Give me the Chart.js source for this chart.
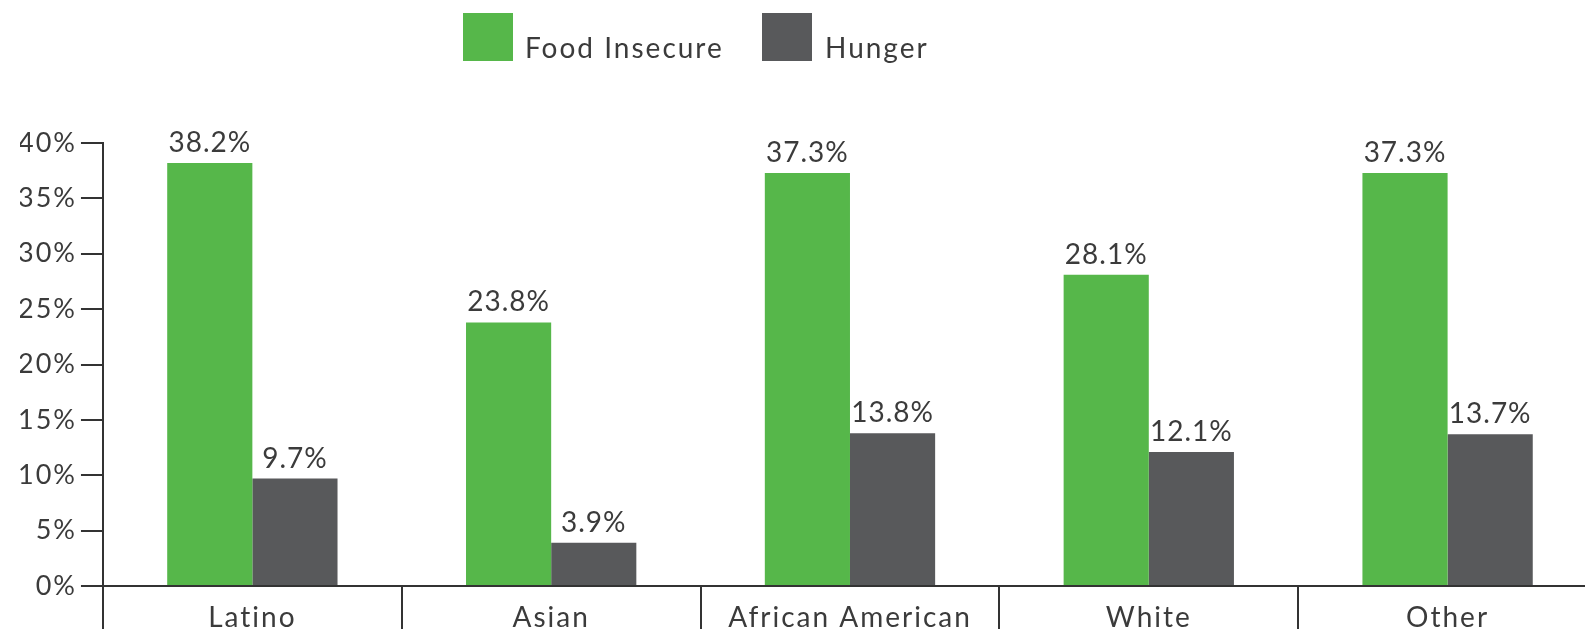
<!DOCTYPE html>
<html>
<head>
<meta charset="utf-8">
<script src="https://cdn.jsdelivr.net/npm/chart.js@4"></script>
<style>
  html, body { margin:0; padding:0; background:#fff; overflow:hidden; width:1585px; height:629px; }
  #wrap { position:absolute; left:0; top:0; width:1600px; height:640px; }
  .lg-box { position:absolute; width:50px; height:48px; top:13px; }
  .lg-txt { position:absolute; top:33px; font-family:Lato, sans-serif; font-size:28px; line-height:28px; letter-spacing:2px; color:#3b3b3b; white-space:nowrap; }
</style>
</head>
<body>
<div id="wrap"><canvas id="chart" width="1600" height="640"></canvas></div>
<div class="lg-box" style="left:463px;background:#56b74a"></div>
<div class="lg-txt" style="left:525px">Food Insecure</div>
<div class="lg-box" style="left:762px;background:#58595b"></div>
<div class="lg-txt" style="left:825px">Hunger</div>
<script>
// values
const categories = ['Latino', 'Asian', 'African American', 'White', 'Other'];
const foodInsecure = [38.2, 23.8, 37.3, 28.1, 37.3];
const hunger = [9.7, 3.9, 13.8, 12.1, 13.7];
const yTicks = [0, 5, 10, 15, 20, 25, 30, 35, 40];

const GREEN = '#56b74a', GRAY = '#58595b', INK = '#3b3b3b', AXIS = '#333';
const FONT = {family:'Lato, sans-serif', size:28};

// the original typeface is wider than Lato, so space the letters a bit
const wideText = {
  id:'wideText',
  beforeDraw(chart){ chart.ctx.letterSpacing = '2px'; }
};

// value labels above each bar
const barLabels = {
  id:'barLabels',
  afterDatasetsDraw(chart){
    const ctx = chart.ctx;
    ctx.save();
    ctx.font = '28px Lato, sans-serif';
    ctx.letterSpacing = '1px';
    ctx.fillStyle = INK;
    ctx.textAlign = 'center';
    ctx.textBaseline = 'alphabetic';
    chart.data.datasets.forEach((ds, i) => {
      chart.getDatasetMeta(i).data.forEach((bar, j) => {
        ctx.fillText(ds.data[j].toFixed(1) + '%', bar.x, bar.y - 11);
      });
    });
    ctx.restore();
  }
};

new Chart(document.getElementById('chart'), {
  type:'bar',
  data:{
    labels:categories,
    datasets:[
      {label:'Food Insecure', data:foodInsecure, backgroundColor:GREEN, borderWidth:0},
      {label:'Hunger', data:hunger, backgroundColor:GRAY, borderWidth:0}
    ]
  },
  options:{
    responsive:false,
    animation:false,
    layout:{padding:{top:143, left:20, right:3, bottom:0}},
    plugins:{legend:{display:false}, tooltip:{enabled:false}},
    datasets:{bar:{barPercentage:1, categoryPercentage:0.57}},
    scales:{
      x:{
        afterFit(scale){ scale.height = 54; },
        grid:{offset:true, drawOnChartArea:false, tickLength:45, color:AXIS, lineWidth:2},
        border:{color:AXIS, width:2},
        ticks:{color:INK, font:FONT, padding:-30, maxRotation:0}
      },
      y:{
        min:0, max:40,
        afterBuildTicks(axis){ axis.ticks = yTicks.map(v => ({value:v})); },
        grid:{drawOnChartArea:false, tickLength:22, color:AXIS, lineWidth:2},
        border:{color:AXIS, width:2},
        ticks:{color:INK, font:{family:'Lato, sans-serif', size:27}, padding:4, callback:v => v + '%'}
      }
    }
  },
  plugins:[wideText, barLabels]
});
</script>
</body>
</html>
